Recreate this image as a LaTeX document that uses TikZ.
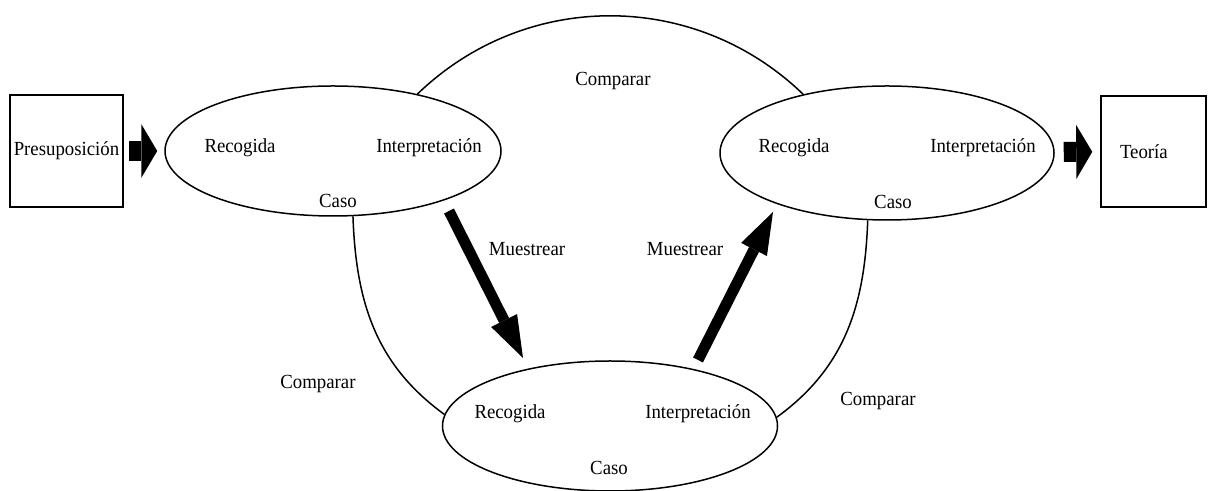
\documentclass[tikz,border=0pt]{standalone}
\usepackage{fontspec}
\setmainfont[FakeStretch=0.94]{Liberation Serif}
\usetikzlibrary{shapes.geometric,arrows.meta}

\begin{document}
\begin{tikzpicture}[x=0.5pt, y=0.5pt, line width=0.75pt,
    caja/.style={draw, rectangle, inner sep=0pt},
    elip/.style={draw, ellipse, inner sep=0pt},
    flechon/.style={line width=10pt, -{Triangle[length=8pt, width=27pt, line width=0pt]}},
    flecha/.style={line width=5.5pt, -{Triangle[length=21pt, width=14.5pt, line width=0pt]}}]
        \useasboundingbox (0,0) rectangle (1208,491);

        \node[caja, minimum width=56.5pt, minimum height=56pt] (pre) at (66.5,340) {Presuposición};
        \node[caja, minimum height=55.5pt, text width=33.5pt, inner xsep=9.5pt, align=left] (teo) at (1153.5,339.5) {Teoría};

        \node[elip, minimum width=168pt, minimum height=65pt] (L) at (333,340) {};
        \node[elip, minimum width=167pt, minimum height=67pt] (R) at (887,338) {};
        \node[elip, minimum width=167.5pt, minimum height=65pt] (B) at (610,65) {};

        \node (lrec) at (240,343) {Recogida};
        \node (lint) at (429,343) {Interpretación};
        \node (lcas) at (338,290) {Caso};
        \node (rrec) at (794,343) {Recogida};
        \node (rint) at (983,343) {Interpretación};
        \node (rcas) at (893,289) {Caso};
        \node (brec) at (510,77) {Recogida};
        \node (bint) at (698,77) {Interpretación};
        \node (bcas) at (609,23) {Caso};

        % comparar
        \draw (L.34) to[out=44, in=136] (R.145);
        \draw (L.287) to[out=-88, in=144] (B.176);
        \draw (R.254) to[out=-92, in=36] (B.3);

        \node (c1) at (613,410) {Comparar};
        \node (c2) at (318,107) {Comparar};
        \node (c3) at (878,90) {Comparar};

        % muestrear
        \coordinate (m1a) at (449,280);
        \coordinate (m1b) at (523,133);
        \coordinate (m2a) at (698,131);
        \coordinate (m2b) at (773,279);
        \draw[flecha] (m1a) -- (m1b);
        \draw[flecha] (m2a) -- (m2b);
        \node (mu1) at (527,242) {Muestrear};
        \node (mu2) at (685,242) {Muestrear};

        \draw[flechon, shorten <=2.5pt, shorten >=3.5pt] (pre) -- (L);
        \draw[flechon, shorten <=4.5pt, shorten >=4pt] (R) -- (teo);

      \end{tikzpicture}
\end{document}
